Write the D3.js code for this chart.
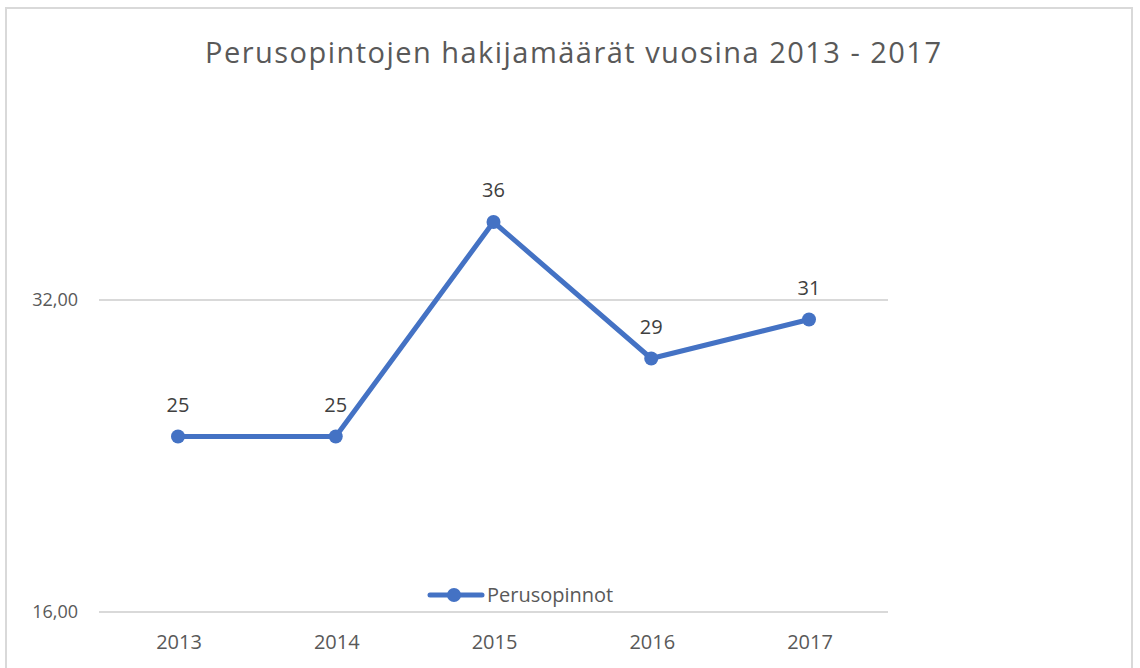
<!DOCTYPE html>
<html><head><meta charset="utf-8">
<script src="https://cdn.jsdelivr.net/npm/d3@7"></script>
<style>body{margin:0;background:#fff;}svg{display:block;}</style>
</head><body>
<script>
const years = ["2013","2014","2015","2016","2017"];
const values = [25, 25, 36, 29, 31];
const yTicks = [16, 32];
const title = "Perusopintojen hakijamäärät vuosina 2013 - 2017";
const seriesName = "Perusopinnot";

const W = 1140, H = 668;
const font = "'Open Sans', 'Noto Sans', sans-serif";
const svg = d3.select("body").append("svg").attr("width", W).attr("height", H);
svg.append("rect").attr("width", W).attr("height", H).attr("fill", "#fff");
svg.append("rect").attr("x", 6).attr("y", 8).attr("width", 1126).attr("height", 680)
  .attr("fill", "none").attr("stroke", "#d9d9d9").attr("stroke-width", 2);

const x = d3.scalePoint().domain(years).range([178, 809]);
const y = d3.scaleLinear().domain([16, 32]).range([612, 300]);

svg.append("text").attr("x", 205).attr("y", 63)
  .attr("textLength", 736).attr("lengthAdjust", "spacing")
  .attr("font-family", font).attr("font-size", 29).attr("fill", "#595959").text(title);

// grid
svg.append("g").selectAll("line").data(yTicks).join("line")
  .attr("x1", 99).attr("x2", 888).attr("y1", d => y(d)).attr("y2", d => y(d))
  .attr("stroke", "#d9d9d9").attr("stroke-width", 2);

const fmt = d => d3.format(".2f")(d).replace(".", ",");
svg.append("g").selectAll("text").data(yTicks).join("text")
  .attr("x", 78).attr("y", d => y(d)).attr("dy", "0.35em").attr("text-anchor", "end")
  .attr("font-family", font).attr("font-size", 18).attr("fill", "#595959").text(fmt);

svg.append("g").selectAll("text").data(years).join("text")
  .attr("x", d => x(d) + 1).attr("y", 642).attr("dy", "0.35em").attr("text-anchor", "middle")
  .attr("font-family", font).attr("font-size", 20).attr("fill", "#595959").text(d => d);

const color = "#4472c4";
const pts = years.map((yr, i) => ({yr, v: values[i]}));
svg.append("path").datum(pts)
  .attr("d", d3.line().x(d => x(d.yr)).y(d => y(d.v)))
  .attr("fill", "none").attr("stroke", color).attr("stroke-width", 5).attr("stroke-linejoin", "round");
svg.append("g").selectAll("circle").data(pts).join("circle")
  .attr("cx", d => x(d.yr)).attr("cy", d => y(d.v)).attr("r", 7).attr("fill", color);
svg.append("g").selectAll("text").data(pts).join("text")
  .attr("x", d => x(d.yr)).attr("y", d => y(d.v) - 32).attr("dy", "0.35em").attr("text-anchor", "middle")
  .attr("font-family", font).attr("font-size", 20).attr("fill", "#404040").text(d => d.v);

// legend
const lg = svg.append("g");
lg.append("line").attr("x1", 430).attr("x2", 482).attr("y1", 595).attr("y2", 595)
  .attr("stroke", color).attr("stroke-width", 5).attr("stroke-linecap", "round");
lg.append("circle").attr("cx", 454).attr("cy", 595).attr("r", 7).attr("fill", color);
lg.append("text").attr("x", 487).attr("y", 595).attr("dy", "0.35em")
  .attr("font-family", font).attr("font-size", 20).attr("fill", "#595959").text(seriesName);
</script>
</body></html>
